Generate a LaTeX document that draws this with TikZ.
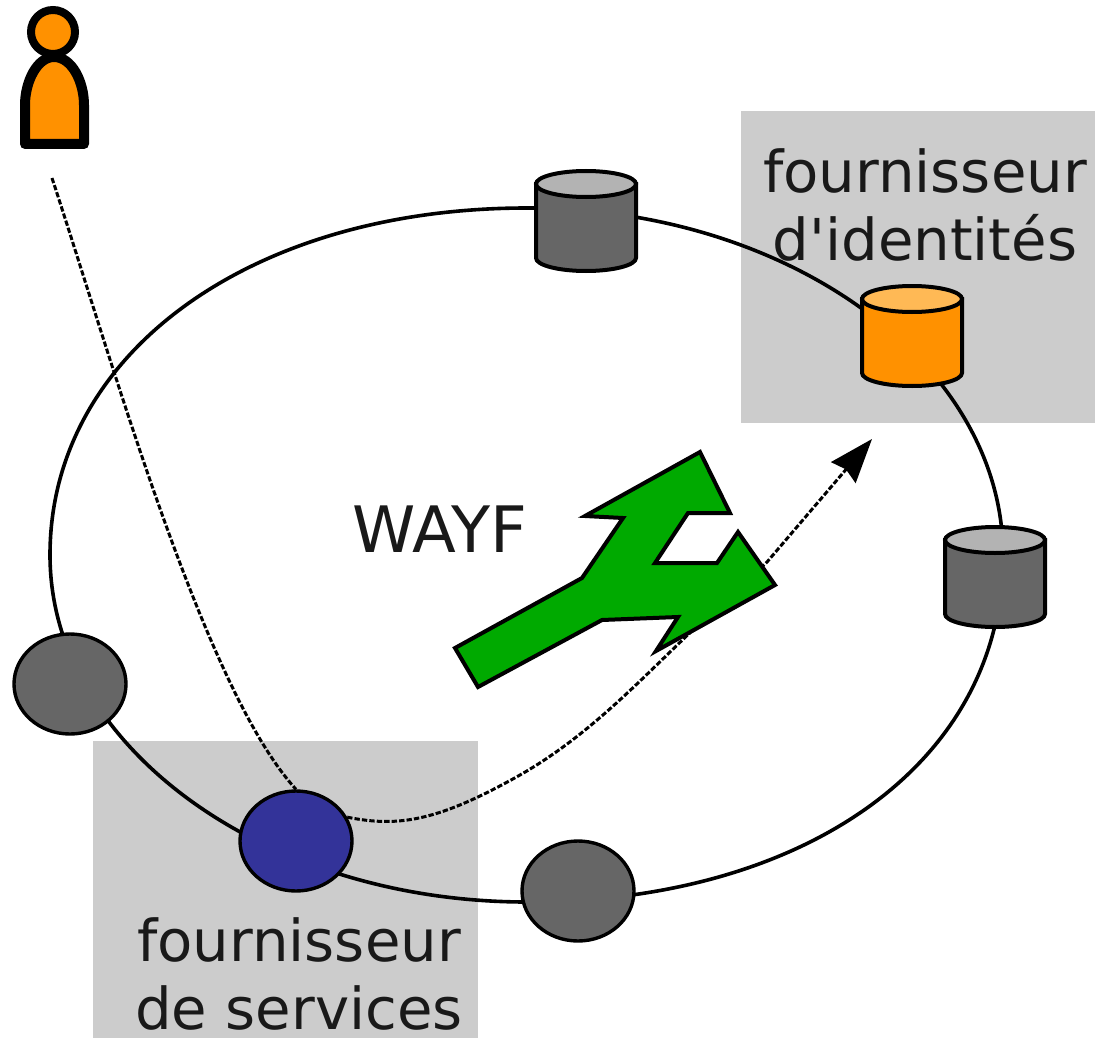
\documentclass[tikz,border=0pt]{standalone}
\usepackage{fontspec}
\newfontfamily\labelfont{DejaVu Sans}
\usetikzlibrary{shapes.geometric,arrows.meta}
\definecolor{panel}{HTML}{CCCCCC}
\definecolor{orangeF}{HTML}{FF9100}
\definecolor{orangeT}{HTML}{FFB955}
\definecolor{greyF}{HTML}{666666}
\definecolor{greyT}{HTML}{B3B3B3}
\definecolor{blueF}{HTML}{333399}
\definecolor{greenF}{HTML}{00AA00}
\tikzset{
  panelbox/.style={fill=panel,draw=none},
  ringline/.style={draw=black,line width=3.6*.75pt},
  dbanchor/.style={inner sep=0pt,minimum width=100*.75pt,minimum height=100*.75pt},
  dbedge/.style={draw=black,line width=4*.75pt},
  site/.style={ellipse,draw=black,line width=3.4*.75pt,minimum width=112*.75pt,minimum height=100*.75pt,inner sep=0pt},
  flow/.style={draw=black,line width=3*.75pt,dash pattern=on 4pt off 1.6pt},
  label/.style={font=\labelfont\fontsize{43.3}{50.5}\selectfont,align=center,inner sep=0pt,text=black!90},
  wayflabel/.style={font=\labelfont\fontsize{48}{50}\selectfont,inner sep=0pt,text=black!90},
  fork/.style={fill=greenF,draw=black,line width=4*.75pt,line join=miter},
  person/.style={fill=orangeF,draw=black,line width=10*.75pt,line join=round}
}
\newcommand{\dbdraw}[4]{%
  \node[dbanchor] (#1) at #2 {};
  \begin{scope}[shift={(#1.center)}]
    \path[dbedge,fill=#3] (-50,-37) -- (50,-37) -- (50,37) arc[start angle=0,end angle=180,x radius=50,y radius=13] -- cycle;
    \path[dbedge,fill=#4] (0,-37) ellipse[x radius=50,y radius=13];
  \end{scope}}
\begin{document}
\begin{tikzpicture}[x=.75pt,y=-.75pt]
\useasboundingbox (0,0) rectangle (1095,1038);
\node[panelbox,minimum width=354*.75pt,minimum height=312*.75pt,inner sep=0pt] (idp) at (918,267) {};
\node[panelbox,minimum width=385*.75pt,minimum height=297*.75pt,inner sep=0pt] (sp) at (285.5,889.5) {};
\draw[ringline] (527,208) .. controls (790,208) and (1003,364) .. (1003,555)
  .. controls (1003,762) and (806,902) .. (527,902)
  .. controls (264,902) and (50,746) .. (50,555)
  .. controls (50,353) and (251,208) .. (527,208) -- cycle;
\dbdraw{dbtop}{(586,221)}{greyF}{greyT}
\dbdraw{dbidp}{(912,336)}{orangeF}{orangeT}
\dbdraw{dbright}{(995,577)}{greyF}{greyT}
\node[site,fill=greyF] (sleft) at (70,684) {};
\node[site,fill=blueF] (sblue) at (296,841) {};
\node[site,fill=greyF] (sbottom) at (578,891) {};
\node[label] (tidp) at (925,205) {fournisseur\\d'identités};
\node[label] (tsp) at (299,974) {fournisseur\\de services};
\node[wayflabel] (twayf) at (440,529) {WAYF};
\coordinate (start) at (52,178);
\coordinate (tip) at (872,439);
\draw[flow] (start) .. controls (115,370) and (205,690) .. (sblue.north);
\draw[flow,-{Stealth[length=44*.75pt,width=32*.75pt,inset=4*.75pt]}] (sblue.25) .. controls (400,828) and (440,820) .. (520,775) .. controls (590,735) and (640,680) .. (695,628) -- (767,562) -- (tip);
\draw[fork] (455,648) -- (478,687) -- (602,620) -- (678,617) -- (656,651) -- (775,585) -- (738,532) -- (717,563) -- (655,563) -- (688,513) -- (730,513) -- (700,452) -- (585,516) -- (623,518) -- (582,578) -- cycle;
\draw[person] (25,144) -- (84,144) -- (84,105) .. controls (84,82) and (72,57) .. (54,57) .. controls (37,57) and (25,82) .. (25,105) -- cycle;
\node[circle,fill=orangeF,draw=black,line width=8*.75pt,minimum size=44*.75pt,inner sep=0pt] (head) at (53,32) {};
\end{tikzpicture}
\end{document}
